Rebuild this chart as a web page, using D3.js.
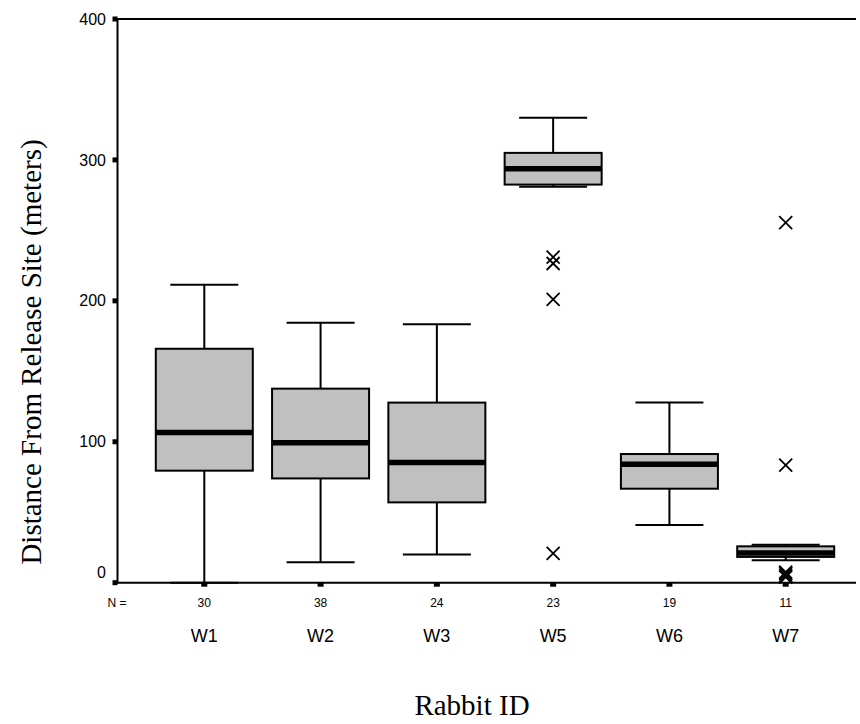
<!DOCTYPE html>
<html>
<head>
<meta charset="utf-8">
<script src="https://cdn.jsdelivr.net/npm/d3@7"></script>
<style>
  body { margin: 0; background: #fff; }
  svg { display: block; }
</style>
</head>
<body>
<div id="chart"></div>
<script>
// box plot data
const rabbits = ["W1", "W2", "W3", "W5", "W6", "W7"];
const counts = [30, 38, 24, 23, 19, 11];
const whiskerLow = [0, 14.5, 20, 281, 41, 16];
const q1 = [79.5, 74, 57, 282.5, 66.7, 18.3];
const medians = [106.5, 99.3, 85.3, 293.8, 84, 21];
const q3 = [166, 137.7, 127.8, 305, 91.3, 25.8];
const whiskerHigh = [211.5, 184.5, 183.4, 330, 127.8, 27];
const outliers = [
  [], [], [],
  [231, 226.5, 201, 20.8],
  [],
  [255.5, 83.5, 7.5, 6.5, 5, 4]
];
const yTicks = [0, 100, 200, 300, 400];

document.addEventListener('DOMContentLoaded', function() {
    const width = 860, height = 724;
    const plot = {left: 117.5, right: 856, top: 19, bottom: 582.7};

    const svg = d3.select("#chart")
                  .append("svg")
                  .attr("width", width)
                  .attr("height", height);

    const x = d3.scalePoint().domain(rabbits).range([204.3, 785.7]);
    const y = d3.scaleLinear().domain([0, 400]).range([plot.bottom, plot.top]);

    const boxHalf = 48.5, capHalf = 34;
    const sans = "Liberation Sans, Arial, sans-serif";
    const serif = "Liberation Serif, Times New Roman, serif";

    const data = rabbits.map((r, i) => ({
        id: r, n: counts[i], lo: whiskerLow[i], q1: q1[i], med: medians[i],
        q3: q3[i], hi: whiskerHigh[i], out: outliers[i]
    }));

    // frame: top line, left axis
    svg.append("line")
       .attr("x1", plot.left).attr("x2", plot.right)
       .attr("y1", plot.top).attr("y2", plot.top)
       .attr("stroke", "#000").attr("stroke-width", 2);
    svg.append("line")
       .attr("x1", plot.left).attr("x2", plot.left)
       .attr("y1", plot.top - 1).attr("y2", plot.bottom + 1)
       .attr("stroke", "#000").attr("stroke-width", 2);

    // y ticks as small squares + labels
    svg.selectAll(".ytick")
       .data(yTicks)
       .enter().append("rect")
       .attr("class", "ytick")
       .attr("x", plot.left - 5)
       .attr("y", d => y(d) - 2.5)
       .attr("width", 5)
       .attr("height", 5)
       .attr("fill", "#000");

    svg.selectAll(".ylabel")
       .data(yTicks)
       .enter().append("text")
       .attr("class", "ylabel")
       .attr("x", 106)
       .attr("y", d => d === 0 ? y(d) - 10 : y(d))
       .attr("dy", "0.35em")
       .attr("text-anchor", "end")
       .attr("font-family", sans)
       .attr("font-size", 16)
       .text(d => d);

    const g = svg.selectAll(".box")
                 .data(data)
                 .enter().append("g")
                 .attr("class", "box")
                 .attr("transform", d => `translate(${x(d.id)},0)`);

    // whisker stems
    g.append("line")
     .attr("x1", 0).attr("x2", 0)
     .attr("y1", d => y(d.hi)).attr("y2", d => y(d.q3))
     .attr("stroke", "#000").attr("stroke-width", 2);
    g.append("line")
     .attr("x1", 0).attr("x2", 0)
     .attr("y1", d => y(d.q1)).attr("y2", d => y(d.lo))
     .attr("stroke", "#000").attr("stroke-width", 2);

    // caps
    g.append("line")
     .attr("x1", -capHalf).attr("x2", capHalf)
     .attr("y1", d => y(d.hi)).attr("y2", d => y(d.hi))
     .attr("stroke", "#000").attr("stroke-width", 2);
    g.append("line")
     .attr("x1", -capHalf).attr("x2", capHalf)
     .attr("y1", d => y(d.lo)).attr("y2", d => y(d.lo))
     .attr("stroke", "#000").attr("stroke-width", 2);

    // box
    g.append("rect")
     .attr("x", -boxHalf)
     .attr("width", boxHalf * 2)
     .attr("y", d => y(d.q3))
     .attr("height", d => y(d.q1) - y(d.q3))
     .attr("fill", "#c0c0c0")
     .attr("stroke", "#000")
     .attr("stroke-width", 2);

    // median
    g.append("line")
     .attr("x1", -boxHalf).attr("x2", boxHalf)
     .attr("y1", d => y(d.med)).attr("y2", d => y(d.med))
     .attr("stroke", "#000").attr("stroke-width", 5.5);

    // outliers as crosses
    const cs = 6.5;
    g.selectAll(".out")
     .data(d => d.out)
     .enter().append("path")
     .attr("class", "out")
     .attr("d", v => `M${-cs},${y(v) - cs}L${cs},${y(v) + cs}M${-cs},${y(v) + cs}L${cs},${y(v) - cs}`)
     .attr("stroke", "#000")
     .attr("stroke-width", 1.8)
     .attr("fill", "none");

    // x axis drawn over the marks
    svg.append("line")
       .attr("x1", plot.left - 1).attr("x2", plot.right)
       .attr("y1", plot.bottom).attr("y2", plot.bottom)
       .attr("stroke", "#000").attr("stroke-width", 2);

    svg.selectAll(".xtick")
       .data(rabbits)
       .enter().append("rect")
       .attr("class", "xtick")
       .attr("x", d => x(d) - 3)
       .attr("y", plot.bottom)
       .attr("width", 6)
       .attr("height", 4)
       .attr("fill", "#000");

    // N = row
    svg.append("text")
       .attr("x", 117)
       .attr("y", 603)
       .attr("dy", "0.35em")
       .attr("text-anchor", "middle")
       .attr("font-family", sans)
       .attr("font-size", 12)
       .text("N =");

    svg.selectAll(".nlabel")
       .data(data)
       .enter().append("text")
       .attr("class", "nlabel")
       .attr("x", d => x(d.id))
       .attr("y", 603)
       .attr("dy", "0.35em")
       .attr("text-anchor", "middle")
       .attr("font-family", sans)
       .attr("font-size", 12)
       .text(d => d.n);

    svg.selectAll(".xlabel")
       .data(rabbits)
       .enter().append("text")
       .attr("class", "xlabel")
       .attr("x", d => x(d))
       .attr("y", 636)
       .attr("dy", "0.35em")
       .attr("text-anchor", "middle")
       .attr("font-family", sans)
       .attr("font-size", 18)
       .text(d => d);

    // axis titles
    svg.append("text")
       .attr("transform", "translate(31,352) rotate(-90)")
       .attr("dy", "0.35em")
       .attr("text-anchor", "middle")
       .attr("font-family", serif)
       .attr("font-size", 29)
       .text("Distance From Release Site (meters)");

    svg.append("text")
       .attr("x", 472)
       .attr("y", 705)
       .attr("dy", "0.35em")
       .attr("text-anchor", "middle")
       .attr("font-family", serif)
       .attr("font-size", 29)
       .text("Rabbit ID");
});
</script>
</body>
</html>
